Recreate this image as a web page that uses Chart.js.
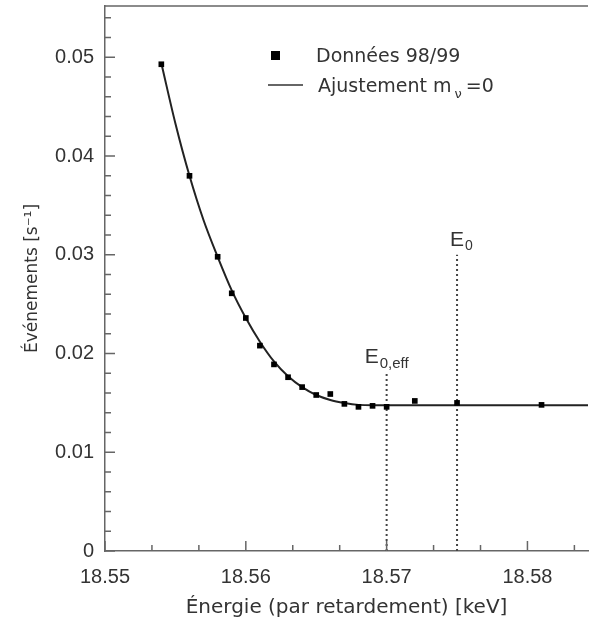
<!DOCTYPE html>
<html>
<head>
<meta charset="utf-8">
<script src="https://cdn.jsdelivr.net/npm/chart.js@4/dist/chart.umd.min.js"></script>
<style>
  html, body { margin: 0; padding: 0; background: #fff; overflow: hidden; }
  #wrap { width: 592px; height: 624px; }
  canvas { display: block; }
</style>
</head>
<body>
<div id="wrap"><canvas id="myChart" width="592" height="624"></canvas></div>
<script>
// measured points (energy keV, rate s^-1)
const DATA_X = [18.554, 18.556, 18.558, 18.559, 18.560, 18.561, 18.562, 18.563, 18.564, 18.565, 18.566, 18.567, 18.568, 18.569, 18.570, 18.572, 18.575, 18.581];
const DATA_Y = [0.0493, 0.0380, 0.0298, 0.0261, 0.0236, 0.0208, 0.0189, 0.0176, 0.0166, 0.0158, 0.0159, 0.0149, 0.0146, 0.0147, 0.0146, 0.0152, 0.0150, 0.0148];

// fit curve
const FIT_X = [18.554, 18.555, 18.556, 18.557, 18.558, 18.559, 18.560, 18.561, 18.562, 18.563, 18.564, 18.565, 18.566, 18.567, 18.568, 18.569, 18.570, 18.5843];
const FIT_Y = [0.0494, 0.0433, 0.0380, 0.0335, 0.0298, 0.0264, 0.0236, 0.0212, 0.0192, 0.0177, 0.0166, 0.0158, 0.0153, 0.0150, 0.0148, 0.01475, 0.01475, 0.01475];

// endpoint markers
const E0 = 18.575, E0_TOP = 0.030;
const E0EFF = 18.570, E0EFF_TOP = 0.018;

const X_TICKS = [18.55, 18.56, 18.57, 18.58];
const Y_TICKS = [0, 0.01, 0.02, 0.03, 0.04, 0.05];

const AXIS_COLOR = '#666';
const TEXT_COLOR = '#333';

const frame = {
    id: 'frame',
    afterDraw(chart) {
        const ctx = chart.ctx;
        const a = chart.chartArea;
        const xs = chart.scales.x, ys = chart.scales.y;
        ctx.save();
        ctx.strokeStyle = AXIS_COLOR;
        ctx.lineWidth = 1.5;
        ctx.beginPath();
        ctx.moveTo(a.left, a.top); ctx.lineTo(a.right, a.top);
        // inward ticks on x: minor every 0.01/3
        for (let i = 0; i < 12; i++) {
            const v = 18.55 + i * 0.01 / 3;
            const px = xs.getPixelForValue(v);
            if (px > a.right) break;
            const len = (i % 3 === 0) ? 10 : 6;
            ctx.moveTo(px, a.bottom); ctx.lineTo(px, a.bottom - len);
        }
        // inward ticks on y: minor every 0.002
        for (let i = 0; i <= 27; i++) {
            const v = i * 0.002;
            const py = ys.getPixelForValue(v);
            if (py < a.top) break;
            const len = (i % 5 === 0) ? 10 : 6;
            ctx.moveTo(a.left, py); ctx.lineTo(a.left + len, py);
        }
        ctx.stroke();

        // legend
        ctx.fillStyle = '#000';
        ctx.fillRect(271, 51, 9, 9);
        ctx.strokeStyle = '#333';
        ctx.lineWidth = 1.5;
        ctx.beginPath(); ctx.moveTo(268, 85); ctx.lineTo(303, 85); ctx.stroke();
        ctx.fillStyle = TEXT_COLOR;
        ctx.textBaseline = 'alphabetic';
        ctx.font = '19px "DejaVu Sans"';
        ctx.fillText('Données 98/99', 316, 62);
        const t = 'Ajustement m';
        ctx.fillText(t, 318, 92);
        let w = ctx.measureText(t).width;
        ctx.font = '13px "DejaVu Sans"';
        ctx.fillText('ν', 318 + w + 3, 98);
        w += ctx.measureText('ν').width + 4;
        ctx.font = '19px "DejaVu Sans"';
        ctx.fillText('=0', 318 + w + 3, 92);

        // E labels
        const e0x = xs.getPixelForValue(E0);
        ctx.font = '21px "Liberation Sans"';
        ctx.fillText('E', e0x - 7, 246);
        ctx.font = '14px "Liberation Sans"';
        ctx.fillText('0', e0x + 8, 250);
        const effx = xs.getPixelForValue(E0EFF);
        ctx.font = '21px "Liberation Sans"';
        ctx.fillText('E', effx - 22, 363);
        ctx.font = '15px "Liberation Sans"';
        ctx.fillText('0,eff', effx - 7, 368);
        ctx.restore();
    }
};

const CONTEXT = document.getElementById('myChart').getContext('2d');
new Chart(CONTEXT,
{
    type: 'scatter',
    data:
    {
        datasets:
        [{
            label: 'Données 98/99',
            data: DATA_X.map((x, i) => ({ x: x, y: DATA_Y[i] })),
            showLine: false,
            pointStyle: 'rect',
            pointRadius: 4,
            backgroundColor: '#000',
            borderColor: '#000',
            borderWidth: 0,
            order: 0
        },
        {
            label: 'Ajustement',
            data: FIT_X.map((x, i) => ({ x: x, y: FIT_Y[i] })),
            showLine: true,
            cubicInterpolationMode: 'monotone',
            borderColor: '#222',
            borderWidth: 2,
            pointRadius: 0,
            order: 1
        },
        {
            label: 'E0',
            data: [{ x: E0, y: 0 }, { x: E0, y: E0_TOP }],
            showLine: true,
            borderColor: '#444',
            borderWidth: 2,
            borderDash: [2, 3],
            pointRadius: 0,
            order: 2
        },
        {
            label: 'E0,eff',
            data: [{ x: E0EFF, y: 0 }, { x: E0EFF, y: E0EFF_TOP }],
            showLine: true,
            borderColor: '#444',
            borderWidth: 2,
            borderDash: [2, 3],
            pointRadius: 0,
            order: 2
        }]
    },
    options:
    {
        responsive: false,
        animation: false,
        layout: { padding: { top: 6, right: 0, left: 0, bottom: 0 } },
        plugins: { legend: { display: false }, tooltip: { enabled: false } },
        scales:
        {
            x:
            {
                type: 'linear',
                min: 18.55,
                max: 18.5843,
                afterBuildTicks: s => { s.ticks = X_TICKS.map(v => ({ value: v })); },
                afterFit: s => { s.height = 73; s.paddingLeft = 0; s.paddingRight = 0; },
                grid: { display: false, drawTicks: false },
                border: { display: true, color: AXIS_COLOR, width: 1.5 },
                ticks: {
                    padding: 14,
                    color: TEXT_COLOR,
                    font: { family: 'Liberation Sans', size: 20 },
                    maxRotation: 0,
                    callback: v => v.toFixed(2)
                },
                title: {
                    display: true,
                    text: 'Énergie (par retardement) [keV]',
                    color: TEXT_COLOR,
                    font: { family: 'DejaVu Sans', size: 20 },
                    padding: { top: 0, bottom: 4 }
                }
            },
            y:
            {
                min: 0,
                max: 0.0552,
                afterBuildTicks: s => { s.ticks = Y_TICKS.map(v => ({ value: v })); },
                afterFit: s => { s.width = 105; s.paddingTop = 0; s.paddingBottom = 0; },
                grid: { display: false, drawTicks: false },
                border: { display: true, color: AXIS_COLOR, width: 1.5 },
                ticks: {
                    padding: 11,
                    color: TEXT_COLOR,
                    font: { family: 'Liberation Sans', size: 20 },
                    callback: v => v === 0 ? '0' : v.toFixed(2)
                },
                title: {
                    display: true,
                    text: 'Événements [s⁻¹]',
                    color: TEXT_COLOR,
                    font: { family: 'DejaVu Sans', size: 17 },
                    padding: { top: 22, bottom: 0 }
                }
            }
        }
    },
    plugins: [frame]
});
</script>
</body>
</html>
